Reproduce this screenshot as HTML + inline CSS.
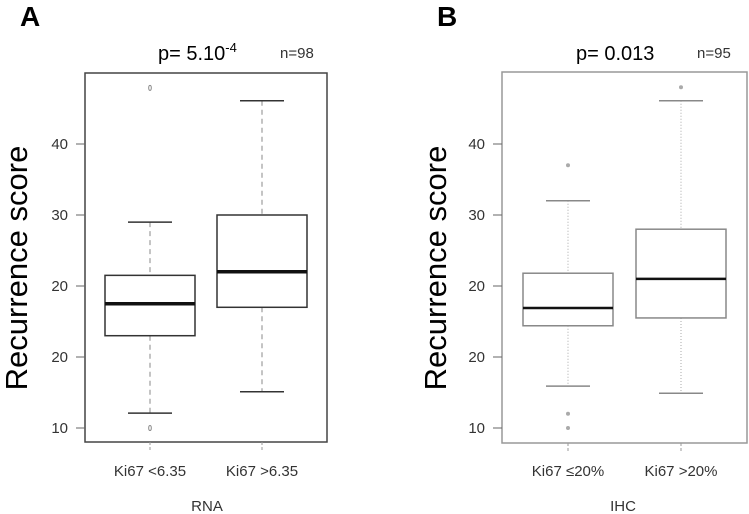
<!DOCTYPE html>
<html><head><meta charset="utf-8"><style>
body{margin:0;background:#fff;}
svg{display:block;font-family:"Liberation Sans",sans-serif;}
</style></head><body>
<svg id="chart" width="749" height="514" viewBox="0 0 749 514">
<text x="20" y="26" font-size="28" font-weight="bold">A</text>
<text x="158" y="60" font-size="20">p= 5.10<tspan font-size="13" dy="-8">-4</tspan></text>
<text x="280" y="58" font-size="15" fill="#333">n=98</text>
<text transform="translate(27,268) rotate(-90)" text-anchor="middle" font-size="31">Recurrence score</text>
<text x="207" y="511" text-anchor="middle" font-size="15" fill="#333">RNA</text>
<text x="437" y="26" font-size="28" font-weight="bold">B</text>
<text x="576" y="60" font-size="20">p= 0.013</text>
<text x="697" y="58" font-size="15" fill="#333">n=95</text>
<text transform="translate(446,268) rotate(-90)" text-anchor="middle" font-size="31">Recurrence score</text>
<text x="623" y="511" text-anchor="middle" font-size="15" fill="#333">IHC</text>
</svg>
<script>
const tickValues=[10,20,30,40,50];
const tickLabels=["10","20","20","30","40"];
const catsA=["Ki67 <6.35","Ki67 >6.35"];
const catsB=["Ki67 ≤20%","Ki67 >20%"];
const lowA=[12.1,15.1], q1A=[23.0,27.0], medA=[27.5,32.0], q3A=[31.5,40.0], highA=[39.0,56.1];
const outA=[[57.9,10],[]];
const lowB=[15.9,14.9], q1B=[24.4,25.5], medB=[26.9,31.0], q3B=[31.8,38.0], highB=[42.0,56.1];
const outB=[[47.0,12.0,10.0],[58.0]];

const svg=document.getElementById('chart');
const NS='http://www.w3.org/2000/svg';
function mk(tag,attrs,parent){const e=document.createElementNS(NS,tag);for(const k in attrs)e.setAttribute(k,attrs[k]);(parent||svg).appendChild(e);return e;}
function y(v){return 428-(v-10)*7.1;}

function panel(p,cats,low,q1,med,q3,high,outs){
  const g=mk('g',{});
  
  
  const f=mk('rect',{x:p.x0,y:p.y0,width:p.x1-p.x0,height:p.y1-p.y0,fill:'none',stroke:p.frame,'stroke-width':1.5},g);
  
  
  tickValues.forEach((v,i)=>{
    const t=mk('line',{x1:p.x0-9,x2:p.x0,y1:y(v),y2:y(v),stroke:'#666'},g);
    
    
    const l=mk('text',{x:p.x0-17,y:y(v)+5,'text-anchor':'end','font-size':15,fill:'#333'},g);
    l.textContent=tickLabels[i];
    
    
  });
  cats.forEach((c,i)=>{
    const cx=p.cx[i], bw=90, cw=44;
    const tk=mk('line',{x1:cx,x2:cx,y1:p.y1,y2:p.y1+10,stroke:'#999','stroke-dasharray':'3,2'},g);
    
    
    const lb=mk('text',{x:cx,y:476,'text-anchor':'middle','font-size':15,fill:'#333'},g);
    lb.textContent=c;
    
    
    const w1=mk('line',{x1:cx,x2:cx,y1:y(high[i]),y2:y(q3[i]),stroke:p.wc,'stroke-dasharray':p.dash},g);
    
    
    const w2=mk('line',{x1:cx,x2:cx,y1:y(q1[i]),y2:y(low[i]),stroke:p.wc,'stroke-dasharray':p.dash},g);
    
    
    const c1=mk('line',{x1:cx-cw/2,x2:cx+cw/2,y1:y(high[i]),y2:y(high[i]),stroke:p.box,'stroke-width':1.5},g);
    
    
    const c2=mk('line',{x1:cx-cw/2,x2:cx+cw/2,y1:y(low[i]),y2:y(low[i]),stroke:p.box,'stroke-width':1.5},g);
    
    
    const b=mk('rect',{x:cx-bw/2,y:y(q3[i]),width:bw,height:y(q1[i])-y(q3[i]),fill:'#fff',stroke:p.box,'stroke-width':1.5},g);
    
    
    const m=mk('line',{x1:cx-bw/2,x2:cx+bw/2,y1:y(med[i]),y2:y(med[i]),stroke:'#111','stroke-width':p.mw},g);
    
    
    outs[i].forEach(v=>{
      const o=mk('ellipse',{cx:cx,cy:y(v),rx:p.rx,ry:p.ry,fill:p.ofill,stroke:p.ostroke},g);
      
      
    });
  });
}
panel({name:'panel-a',x0:85,x1:327,y0:73,y1:442,cx:[150,262],frame:'#444',box:'#333',wc:'#888',dash:'5,4',mw:3.5,rx:1.3,ry:2.5,ofill:'none',ostroke:'#888'},catsA,lowA,q1A,medA,q3A,highA,outA);
panel({name:'panel-b',x0:502,x1:747,y0:72,y1:443,cx:[568,681],frame:'#999',box:'#888',wc:'#aaa',dash:'1,2',mw:2.5,rx:2,ry:2,ofill:'#aaa',ostroke:'none'},catsB,lowB,q1B,medB,q3B,highB,outB);
</script>
</body></html>
